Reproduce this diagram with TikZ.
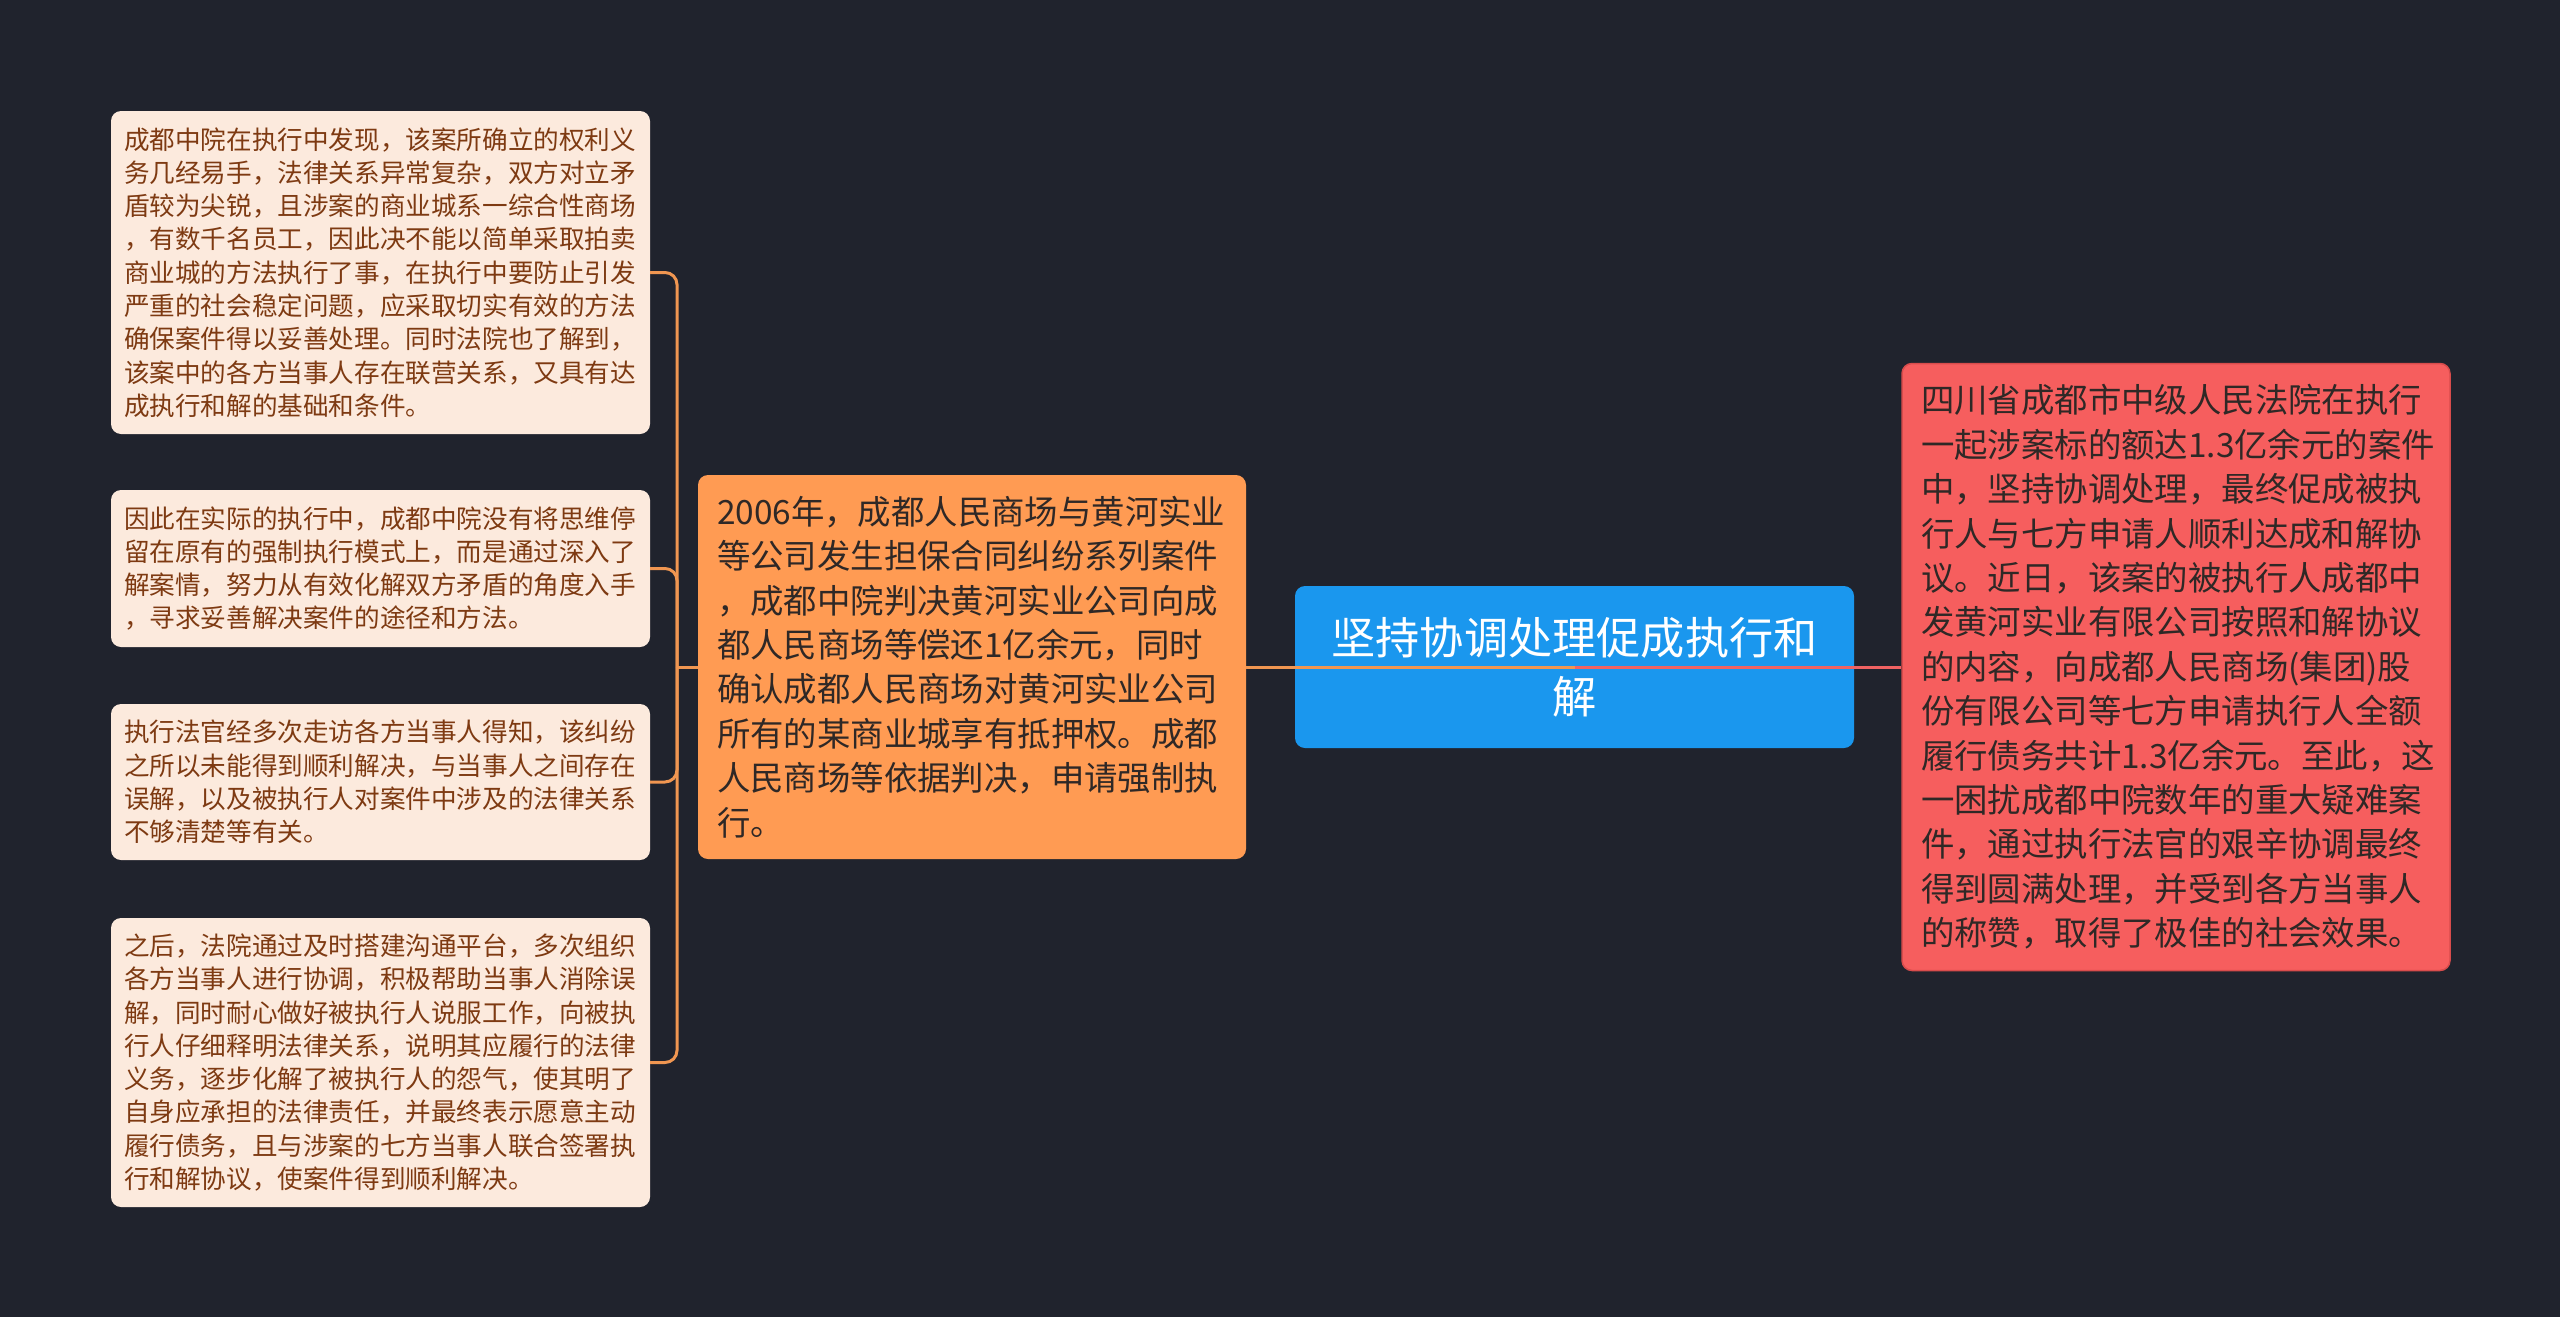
\documentclass[tikz,border=0pt]{standalone}
\usepackage{fontspec}
\setmainfont{Noto Sans CJK SC}
\definecolor{bg}{HTML}{20232D}
\definecolor{leaf}{HTML}{FCEADD}
\definecolor{leaftext}{HTML}{7E3A12}
\definecolor{orangebox}{HTML}{FF9B53}
\definecolor{orangeline}{HTML}{F09651}
\definecolor{bluebox}{HTML}{1A97EE}
\definecolor{redbox}{HTML}{F65E5E}
\definecolor{redborder}{HTML}{D84C4C}
\definecolor{redline}{HTML}{F06262}
\definecolor{darktext}{HTML}{2F2826}
\begin{document}
\begin{tikzpicture}[x=1pt,y=-1pt,
  leafbox/.style={fill=leaf, rounded corners=10pt, text=leaftext,
    text width=513pt, inner xsep=13pt, inner ysep=0pt, align=left,
    font=\fontsize{25.6}{33.3}\selectfont},
  midbox/.style={fill=orangebox, rounded corners=10pt, text=darktext,
    text width=510pt, inner xsep=19pt, inner ysep=0pt, align=left,
    minimum height=384pt, font=\fontsize{33.4}{44.4}\selectfont},
  rootbox/.style={fill=bluebox, rounded corners=10pt, text=white,
    text width=520pt, inner xsep=19.5pt, inner ysep=0pt, align=center,
    minimum height=162pt, font=\fontsize{44.2}{59}\selectfont},
  rightbox/.style={fill=redbox, draw=redborder, line width=1.5pt, rounded corners=10pt, text=darktext,
    text width=510pt, inner xsep=19pt, inner ysep=0pt, align=left,
    minimum height=607pt, font=\fontsize{33.4}{44.4}\selectfont},
  conn/.style={draw=orangeline, line width=3pt},
  redconn/.style={draw=redline, line width=3pt}
]
\useasboundingbox (0,0) rectangle (2560,1317);
\fill[bg] (0,0) rectangle (2560,1317);

\node[leafbox, minimum height=323pt] (b1) at (380.5,272.5) {成都中院在执行中发现，该案所确立的权利义\\
务几经易手，法律关系异常复杂，双方对立矛\\
盾较为尖锐，且涉案的商业城系一综合性商场\\
，有数千名员工，因此决不能以简单采取拍卖\\
商业城的方法执行了事，在执行中要防止引发\\
严重的社会稳定问题，应采取切实有效的方法\\
确保案件得以妥善处理。同时法院也了解到，\\
该案中的各方当事人存在联营关系，又具有达\\
成执行和解的基础和条件。};

\node[leafbox, minimum height=157pt] (b2) at (380.5,568.5) {因此在实际的执行中，成都中院没有将思维停\\
留在原有的强制执行模式上，而是通过深入了\\
解案情，努力从有效化解双方矛盾的角度入手\\
，寻求妥善解决案件的途径和方法。};

\node[leafbox, minimum height=156pt] (b3) at (380.5,782) {执行法官经多次走访各方当事人得知，该纠纷\\
之所以未能得到顺利解决，与当事人之间存在\\
误解，以及被执行人对案件中涉及的法律关系\\
不够清楚等有关。};

\node[leafbox, minimum height=289pt] (b4) at (380.5,1062.5) {之后，法院通过及时搭建沟通平台，多次组织\\
各方当事人进行协调，积极帮助当事人消除误\\
解，同时耐心做好被执行人说服工作，向被执\\
行人仔细释明法律关系，说明其应履行的法律\\
义务，逐步化解了被执行人的怨气，使其明了\\
自身应承担的法律责任，并最终表示愿意主动\\
履行债务，且与涉案的七方当事人联合签署执\\
行和解协议，使案件得到顺利解决。};

\node[midbox] (mid) at (972,667) {2006年，成都人民商场与黄河实业\\
等公司发生担保合同纠纷系列案件\\
，成都中院判决黄河实业公司向成\\
都人民商场等偿还1亿余元，同时\\
确认成都人民商场对黄河实业公司\\
所有的某商业城享有抵押权。成都\\
人民商场等依据判决，申请强制执\\
行。};

\node[rootbox] (root) at (1574.5,667) {坚持协调处理促成执行和\\解};

\node[rightbox] (red) at (2176,667) {四川省成都市中级人民法院在执行\\
一起涉案标的额达1.3亿余元的案件\\
中，坚持协调处理，最终促成被执\\
行人与七方申请人顺利达成和解协\\
议。近日，该案的被执行人成都中\\
发黄河实业有限公司按照和解协议\\
的内容，向成都人民商场(集团)股\\
份有限公司等七方申请执行人全额\\
履行债务共计1.3亿余元。至此，这\\
一困扰成都中院数年的重大疑难案\\
件，通过执行法官的艰辛协调最终\\
得到圆满处理，并受到各方当事人\\
的称赞，取得了极佳的社会效果。};

\coordinate (jL) at (677,667);
\draw[conn] (mid.west) -- (jL);
\draw[conn, rounded corners=12pt] (jL) |- (b1.east);
\draw[conn, rounded corners=12pt] (jL) |- (b2.east);
\draw[conn, rounded corners=12pt] (jL) |- (b3.east);
\draw[conn, rounded corners=12pt] (jL) |- (b4.east);

\draw[conn] (root.center) -- (mid.east);
\draw[redconn] (root.center) -- (red.west);
\end{tikzpicture}
\end{document}
